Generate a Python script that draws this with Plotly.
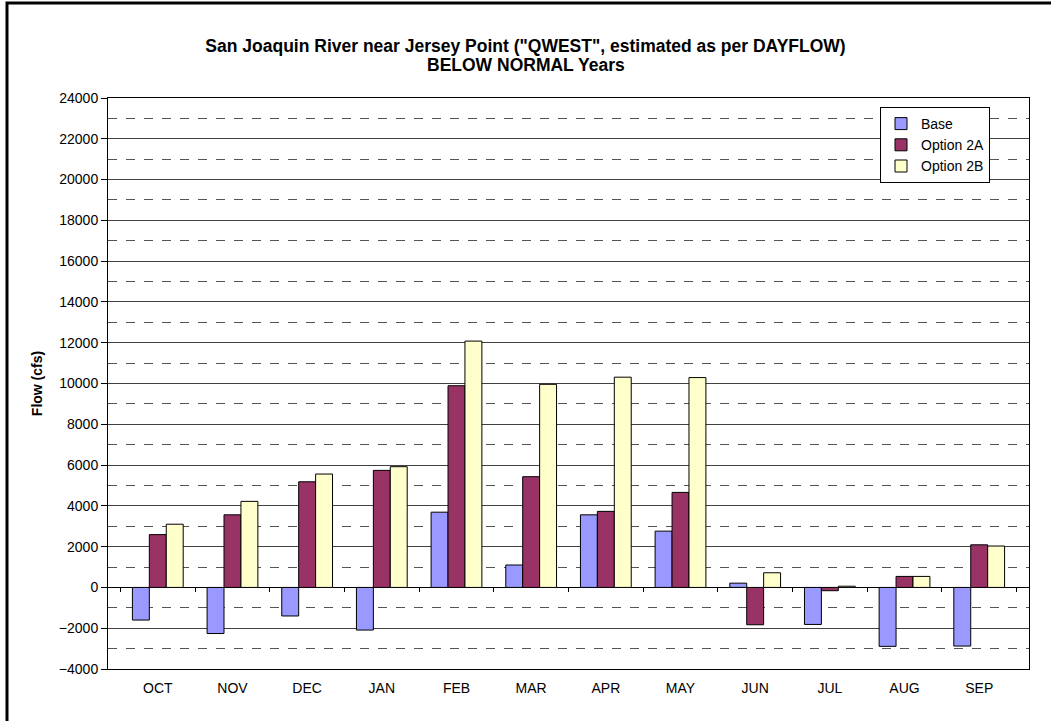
import plotly.graph_objects as go

months = ["OCT", "NOV", "DEC", "JAN", "FEB", "MAR", "APR", "MAY", "JUN", "JUL", "AUG", "SEP"]
base = [-1600, -2260, -1400, -2090, 3690, 1100, 3560, 2760, 210, -1815, -2890, -2875]
option_2a = [2590, 3560, 5180, 5740, 9890, 5430, 3730, 4660, -1830, -160, 540, 2090]
option_2b = [3100, 4220, 5560, 5920, 12080, 9960, 10310, 10290, 720, 60, 540, 2030]
y_ticks = list(range(-4000, 24001, 2000))
title_line1 = "San Joaquin River near Jersey Point (\"QWEST\", estimated as per DAYFLOW)"
title_line2 = "BELOW NORMAL Years"

FONT = "Arial, Liberation Sans, sans-serif"

fig = go.Figure()
for name, vals, col in [("Base", base, "#9999FF"),
                        ("Option 2A", option_2a, "#993366"),
                        ("Option 2B", option_2b, "#FFFFCC")]:
    fig.add_trace(go.Bar(name=name, x=months, y=vals, marker=dict(color=col, line=dict(color="black", width=1))))

# invisible trace to carry the category-boundary tick axis at y=0
fig.add_trace(go.Scatter(x=months, y=base, xaxis="x2", mode="markers",
                         marker=dict(opacity=0), showlegend=False, hoverinfo="skip"))

fig.update_layout(
    width=1051, height=721,
    paper_bgcolor="white", plot_bgcolor="white",
    margin=dict(l=108, r=22, t=98, b=52),
    barmode="group", bargap=0.32, bargroupgap=0,
    font=dict(family=FONT, size=14, color="black"),
    title=dict(text="<b>" + title_line1 + "</b>",
               x=0.5, xref="container", xanchor="center",
               y=1 - 46 / 721, yref="container", yanchor="middle",
               font=dict(family=FONT, size=17.5, color="black")),
    annotations=[dict(text="<b>" + title_line2 + "</b>", showarrow=False,
                      xref="paper", yref="paper",
                      x=(526 - 108) / 921, y=(669 - 65) / 571,
                      xanchor="center", yanchor="middle",
                      font=dict(family=FONT, size=17.5, color="black"))],
    xaxis=dict(type="category", categoryorder="array", categoryarray=months,
               showline=True, linecolor="black", linewidth=1, mirror=True,
               ticks="", showgrid=False, tickfont=dict(size=14), ticklabelstandoff=6),
    xaxis2=dict(type="category", categoryorder="array", categoryarray=months,
                overlaying="x", anchor="free", position=4000 / 28000, matches="x",
                tickson="boundaries", ticks="outside", ticklen=4, tickcolor="black",
                showticklabels=False, showline=False, showgrid=False),
    yaxis=dict(range=[-4000, 24000], tickvals=y_ticks, tickformat="d",
               ticks="outside", ticklen=6, tickcolor="black",
               showline=True, linecolor="black", linewidth=1, mirror=True,
               showgrid=True, gridcolor="#404040", gridwidth=1,
               zeroline=True, zerolinecolor="black", zerolinewidth=1,
               minor=dict(dtick=1000, tick0=0, showgrid=True, gridcolor="#555555",
                          griddash="dash", gridwidth=1, ticks=""),
               title=dict(text="<b>Flow (cfs)</b>", standoff=12, font=dict(size=14)),
               tickfont=dict(size=14)),
    legend=dict(x=(880 - 108) / 921, y=(669 - 107) / 571, xanchor="left", yanchor="top",
                bgcolor="white", bordercolor="black", borderwidth=1,
                font=dict(size=14), itemwidth=30, tracegroupgap=0),
    shapes=[dict(type="rect", xref="paper", yref="paper",
                 x0=(7 - 108) / 921, x1=(1070 - 108) / 921,
                 y0=(669 - 740) / 571, y1=(669 - 3) / 571,
                 line=dict(color="black", width=3), fillcolor="rgba(0,0,0,0)", layer="below")],
)

fig.write_html("out.html", config={"displayModeBar": False},
               post_script="document.body.style.margin='0';")
